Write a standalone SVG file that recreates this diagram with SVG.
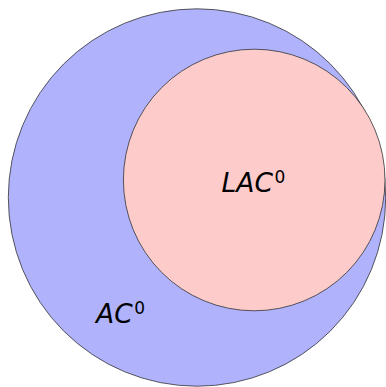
<svg xmlns="http://www.w3.org/2000/svg" width="386" height="387" viewBox="0 0 386 387">
<style>
.set{stroke:#333;stroke-width:0.8}
.lbl{font-family:"DejaVu Sans",sans-serif;font-style:italic;font-size:26.5px;fill:#000}
.sup{font-size:17px;font-style:normal}
</style>
<g id="AC0">
<circle class="set" cx="197" cy="197.5" r="188.7" fill="#b0b3fc"/>
<text class="lbl" x="96" y="323.3">AC<tspan class="sup" dy="-9" dx="1.5">0</tspan></text>
</g>
<g id="LAC0">
<circle class="set" cx="254.2" cy="180" r="130.8" fill="#fecbcb"/>
<text class="lbl" x="221.5" y="192.3">LAC<tspan class="sup" dy="-9" dx="1.5">0</tspan></text>
</g>
<g id="connectors"/>
</svg>
